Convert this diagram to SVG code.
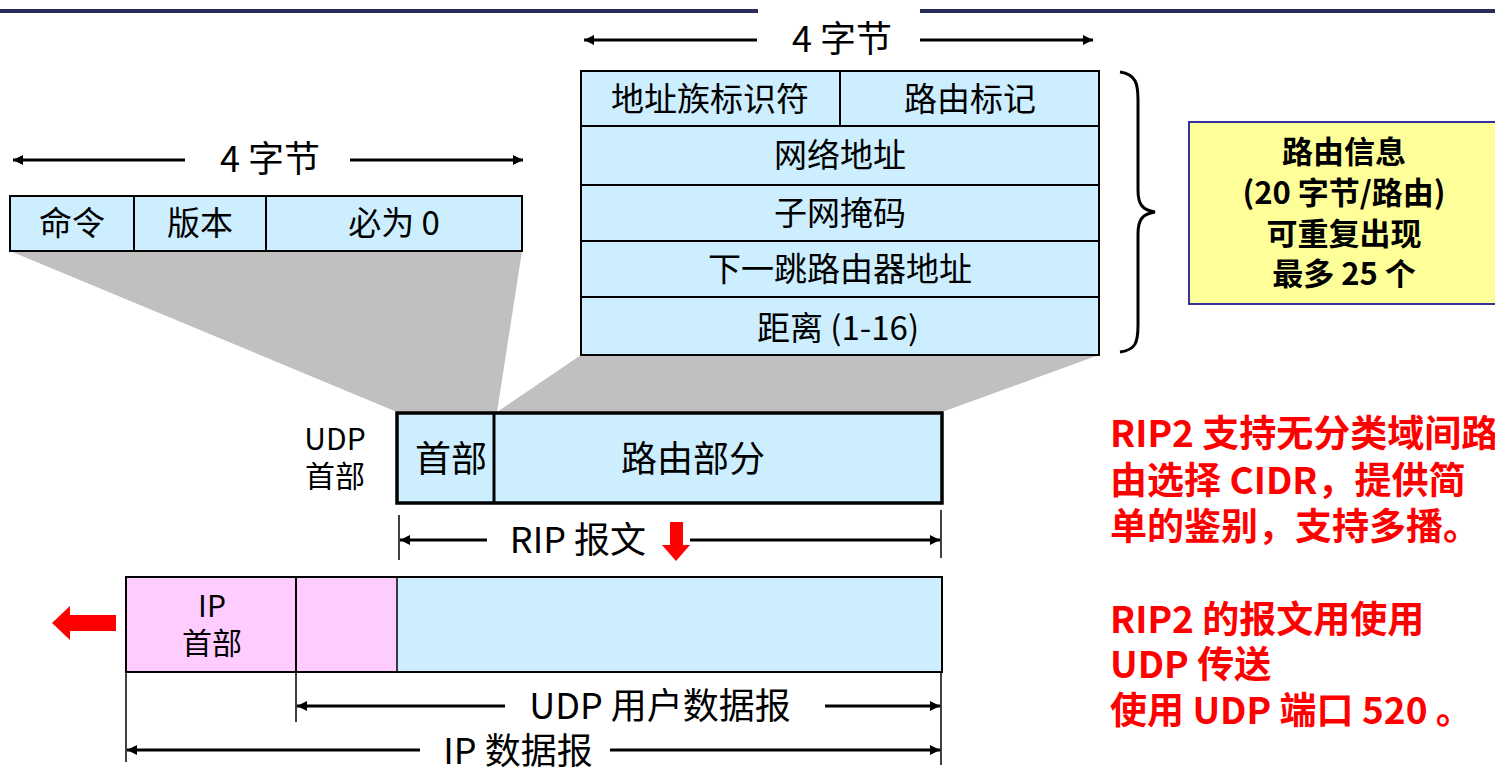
<svg xmlns="http://www.w3.org/2000/svg" width="1495" height="772" viewBox="0 0 1495 772">
<style>
text{font-family:"Noto Sans CJK SC","Noto Sans",sans-serif;fill:#000}
.c{text-anchor:middle}
.f32{font-size:33px}
.f30{font-size:30px}
.f36{font-size:36px}
.cell{fill:#cceeff;stroke:#000;stroke-width:2}
.dim{stroke:#000;stroke-width:3;fill:none}
.tick{stroke:#000;stroke-width:1.5}
.red{fill:#ff0000;font-weight:bold;font-size:37px}
.yel{font-weight:bold;font-size:31px}
</style>
<defs>
<marker id="ah" viewBox="0 0 10 10" refX="10" refY="5" markerWidth="14" markerHeight="10" markerUnits="userSpaceOnUse" orient="auto-start-reverse">
<path d="M0,0 L10,5 L0,10 Z" fill="#000"/>
</marker>
</defs>
<rect width="1495" height="772" fill="#fff"/>
<!-- top bar -->
<rect x="0" y="9" width="758" height="4" fill="#2a2c5a"/>
<rect x="920" y="9" width="575" height="4" fill="#2a2c5a"/>

<!-- shadows -->
<g id="shadows">
<polygon points="10,251 522,251 497,412 397,412" fill="#c0c0c0"/>
<polygon points="581,355 1099,355 942,412 497,412" fill="#c0c0c0"/>
</g>

<g id="connectors">
<line class="dim" x1="757" y1="40" x2="584" y2="40" marker-end="url(#ah)"/>
<line class="dim" x1="920" y1="40" x2="1093" y2="40" marker-end="url(#ah)"/>
<line class="dim" x1="185" y1="160" x2="13" y2="160" marker-end="url(#ah)"/>
<line class="dim" x1="350" y1="160" x2="523" y2="160" marker-end="url(#ah)"/>
<line class="tick" x1="399" y1="515" x2="399" y2="560"/>
<line class="tick" x1="941" y1="510" x2="941" y2="558"/>
<line class="dim" x1="487" y1="540" x2="400" y2="540" marker-end="url(#ah)"/>
<line class="dim" x1="690" y1="540" x2="940" y2="540" marker-end="url(#ah)"/>
<line class="tick" x1="126" y1="673" x2="126" y2="762"/>
<line class="tick" x1="296" y1="673" x2="296" y2="722"/>
<line class="tick" x1="941" y1="673" x2="941" y2="765"/>
<line class="dim" x1="505" y1="706" x2="297" y2="706" marker-end="url(#ah)"/>
<line class="dim" x1="825" y1="706" x2="940" y2="706" marker-end="url(#ah)"/>
<line class="dim" x1="420" y1="750" x2="127" y2="750" marker-end="url(#ah)"/>
<line class="dim" x1="610" y1="750" x2="940" y2="750" marker-end="url(#ah)"/>
<path d="M1120,72 C1136,74 1138,84 1138,100 L1138,190 C1138,204 1142,210 1155,212 C1142,214 1138,220 1138,234 L1138,325 C1138,342 1136,350 1120,352" class="dim"/>
<polygon points="670,522 683,522 683,545 690,545 676,561 662,545 670,545" fill="#ff0000"/>
<polygon points="52,623 70,606 70,615 116,615 116,631 70,631 70,640" fill="#ff0000"/>
</g>

<g id="dim-labels">
<text class="f36 c" x="842" y="52">4 字节</text>
<text class="f36 c" x="270" y="172">4 字节</text>
<text class="f36 c" x="578" y="553">RIP 报文</text>
<text class="f36 c" x="660" y="719">UDP 用户数据报</text>
<text class="f36 c" x="518" y="764">IP 数据报</text>
</g>

<g id="rip-header">
<rect class="cell" x="10" y="196" width="512" height="55"/>
<line x1="134" y1="196" x2="134" y2="251" stroke="#000" stroke-width="2"/>
<line x1="266" y1="196" x2="266" y2="251" stroke="#000" stroke-width="2"/>
<text class="f32 c" x="72" y="235">命令</text>
<text class="f32 c" x="200" y="235">版本</text>
<text class="f32 c" x="394" y="235">必为 0</text>
</g>

<g id="route-entry">
<rect class="cell" x="581" y="71" width="518" height="284"/>
<line x1="581" y1="126" x2="1099" y2="126" stroke="#000" stroke-width="2"/>
<line x1="581" y1="185" x2="1099" y2="185" stroke="#000" stroke-width="2"/>
<line x1="581" y1="241" x2="1099" y2="241" stroke="#000" stroke-width="2"/>
<line x1="581" y1="297" x2="1099" y2="297" stroke="#000" stroke-width="2"/>
<line x1="840" y1="71" x2="840" y2="126" stroke="#000" stroke-width="2"/>
<text class="f32 c" x="710" y="111">地址族标识符</text>
<text class="f32 c" x="970" y="111">路由标记</text>
<text class="f32 c" x="840" y="167">网络地址</text>
<text class="f32 c" x="840" y="225">子网掩码</text>
<text class="f32 c" x="840" y="281">下一跳路由器地址</text>
<text class="f32 c" x="838" y="340">距离 (1-16)</text>
</g>

<g id="route-info-note">
<rect x="1189" y="122" width="310" height="182" fill="#ffff99" stroke="#333399" stroke-width="2"/>
<text class="yel c" x="1344" y="163">路由信息</text>
<text class="yel c" x="1344" y="204">(20 字节/路由)</text>
<text class="yel c" x="1344" y="245">可重复出现</text>
<text class="yel c" x="1344" y="285">最多 25 个</text>
</g>

<g id="udp-datagram">
<rect x="397" y="413" width="545" height="90" fill="#cceeff" stroke="#000" stroke-width="3.5"/>
<line x1="494" y1="413" x2="494" y2="503" stroke="#000" stroke-width="3"/>
<text class="f36 c" x="451" y="472">首部</text>
<text class="f36 c" x="693" y="472">路由部分</text>
<text class="f30 c" x="335" y="450">UDP</text>
<text class="f30 c" x="335" y="487">首部</text>
</g>

<g id="ip-datagram">
<rect x="126" y="577" width="271" height="95" fill="#ffccff"/>
<rect x="397" y="577" width="545" height="95" fill="#cceeff"/>
<rect x="126" y="577" width="816" height="95" fill="none" stroke="#000" stroke-width="2"/>
<line x1="296" y1="577" x2="296" y2="672" stroke="#000" stroke-width="2"/>
<line x1="397" y1="577" x2="397" y2="672" stroke="#000" stroke-width="1.5"/>
<text class="f30 c" x="212" y="617">IP</text>
<text class="f30 c" x="212" y="654">首部</text>
</g>

<g id="notes">
<text class="red" x="1110" y="447">RIP2 支持无分类域间路</text>
<text class="red" x="1110" y="494">由选择 CIDR，提供简</text>
<text class="red" x="1110" y="540">单的鉴别，支持多播。</text>
<text class="red" x="1110" y="633">RIP2 的报文用使用</text>
<text class="red" x="1110" y="678">UDP 传送</text>
<text class="red" x="1110" y="724">使用 UDP 端口 520 。</text>
</g>
</svg>
